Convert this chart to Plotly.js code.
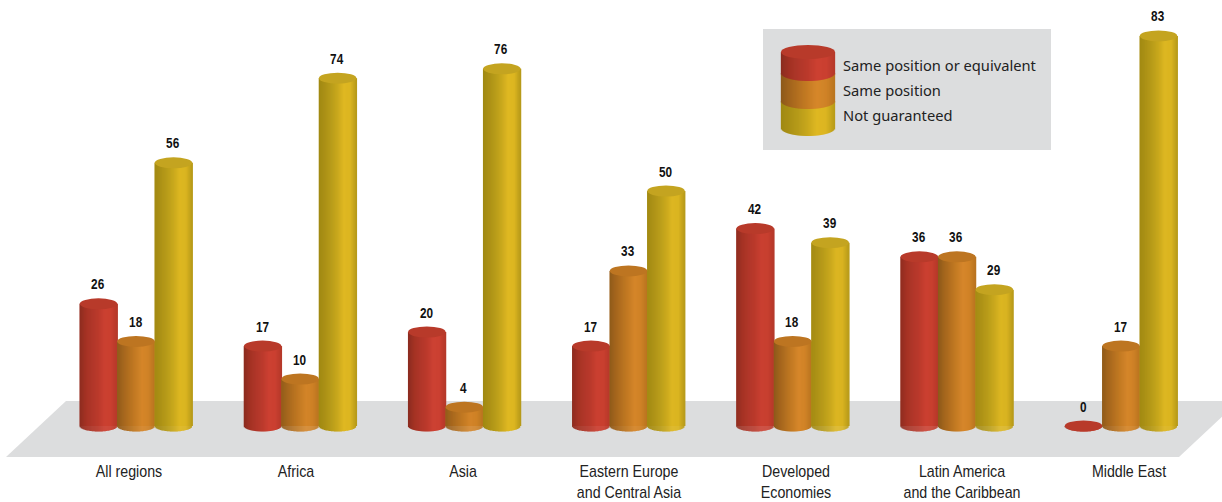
<!DOCTYPE html>
<html>
<head>
<meta charset="utf-8">
<script src="https://cdn.plot.ly/plotly-3.0.1.min.js"></script>
<style>html,body{margin:0;padding:0;background:#fff;overflow:hidden}#c{width:1222px;height:502px}</style>
</head>
<body>
<div id="c"></div>
<script>
const categories = ['All regions','Africa','Asia','Eastern Europe<br>and Central Asia','Developed<br>Economies','Latin America<br>and the Caribbean','Middle East'];
const seriesNames = ['Same position or equivalent','Same position','Not guaranteed'];
const samePositionOrEquivalent = [26,17,20,17,42,36,0];
const samePosition = [18,10,4,33,18,36,17];
const notGuaranteed = [56,74,76,50,39,29,83];
const seriesValues = [samePositionOrEquivalent, samePosition, notGuaranteed];
const labelPixels = [129,296,463,629,796,962,1129];
const shades = [
  ['#8a2c1f','#a33224','#b0372a','#bb3a2c','#cc4132','#cb4031','#b5392a'],
  ['#8c591a','#a3651d','#b57120','#c67c24','#d6872a','#d08327','#b97420'],
  ['#a08812','#ab9116','#b89c1a','#c9a81d','#dfb822','#dcb621','#b79a19']
];
const topColors = ['#b83a2a','#bd7521','#c4a420'];

const W=1222,H=502,pxPerUnit=4.7,baseY=426,plotBottom=458,groupStart=136,groupStep=164.17,barW=37.5,rimH=5.5;
const toX = px => (px-groupStart)/groupStep;
const toY = py => (baseY-py)/pxPerUnit;
const pX = px => px/W;
const pY = py => 1-py/(plotBottom);
function hex(h){return [1,3,5].map(i=>parseInt(h.substr(i,2),16));}
function shade(list,t){
  const p=t*(list.length-1),i=Math.min(Math.floor(p),list.length-2),f=p-i;
  const a=hex(list[i]),b=hex(list[i+1]);
  return 'rgb('+a.map((v,k)=>Math.round(v+(b[k]-v)*f)).join(',')+')';
}
function strips(cxPx,topPx,bottomPx,halfW,hh,list,out){
  for(let p=-halfW;p<halfW;p++){
    const d=(p+0.5)/halfW, arc=hh*Math.sqrt(Math.max(0,1-d*d));
    const b=toY(bottomPx+arc), t=toY(topPx);
    out.x.push(toX(cxPx+p+0.5)); out.base.push(b); out.y.push(t-b);
    out.color.push(shade(list,(d+1)/2));
  }
}
const traces=[],shapes=[],annotations=[];
function push(out,name){
  traces.push({type:'bar',name:name,x:out.x,y:out.y,base:out.base,width:1.3/groupStep,
    marker:{color:out.color,line:{width:0}},hoverinfo:'skip',showlegend:false});
}
const ellipse=(cx,cy,hw,hh,col)=>({type:'circle',xref:'x',yref:'y',x0:toX(cx-hw),x1:toX(cx+hw),y0:toY(cy+hh),y1:toY(cy-hh),fillcolor:col,line:{width:0},layer:'above'});

// platform and legend panel
const poly=pts=>'M'+pts.map(p=>pX(p[0])+','+pY(p[1])).join('L')+'Z';
shapes.push({type:'path',xref:'paper',yref:'paper',path:poly([[66,401],[1239,401],[1179,457],[6,457]]),fillcolor:'#dcddde',line:{width:0},layer:'below'});
shapes.push({type:'rect',xref:'paper',yref:'paper',x0:pX(763),x1:pX(1051),y0:pY(150),y1:pY(29),fillcolor:'#dcddde',line:{width:0},layer:'below'});

seriesValues.forEach((vals,s)=>{
  const off=(s-1)*barW/groupStep;
  traces.push({type:'bar',name:seriesNames[s],x:vals.map((v,i)=>i+off),y:vals,width:barW/groupStep,
    marker:{color:topColors[s],line:{width:0}},hoverinfo:'skip',showlegend:false});
  const out={x:[],y:[],base:[],color:[]};
  vals.forEach((v,i)=>{
    const cx=groupStart+groupStep*i+off*groupStep;
    strips(cx,baseY-v*pxPerUnit,baseY,barW/2,rimH,shades[s],out);
    shapes.push(ellipse(cx,baseY-v*pxPerUnit,barW/2,rimH,topColors[s]));
    annotations.push({x:i+off,y:v,xshift:-0.5,yshift:20,text:String(v),showarrow:false,xanchor:'center',yanchor:'middle',
      font:{family:'"Liberation Sans"',size:15.5,color:'#111',weight:700}});
  });
  push(out,seriesNames[s]+' shading');
});

// legend swatch: one stacked cylinder
const legendCx=808,legendHalf=27,legendHh=8,legendLevels=[52,73,101,128];
[2,1,0].forEach(s=>{
  const out={x:[],y:[],base:[],color:[]};
  strips(legendCx,legendLevels[s],legendLevels[s+1],legendHalf,legendHh,shades[s],out);
  push(out,seriesNames[s]+' key');
});
shapes.push(ellipse(legendCx,legendLevels[0],legendHalf,legendHh-1,topColors[0]));
[65,90,115].forEach((py,s)=>annotations.push({xref:'paper',yref:'paper',x:pX(841),y:pY(py),xanchor:'left',yanchor:'middle',showarrow:false,
  text:seriesNames[s],font:{family:'"Noto Sans"',size:14.7,color:'#222'}}));

function squeeze(el,s){
  const tr=el.getAttribute('transform')||'',b=el.getBBox(),cx=b.x+b.width/2;
  el.setAttribute('transform',tr+' translate('+cx+',0) scale('+s+',1) translate('+(-cx)+',0)');
}
Plotly.newPlot('c',traces,{
  width:W,height:H,margin:{l:0,r:0,t:0,b:H-plotBottom,pad:0},
  paper_bgcolor:'#fff',plot_bgcolor:'rgba(0,0,0,0)',barmode:'overlay',showlegend:false,
  xaxis:{type:'linear',range:[toX(0),toX(W)],tickmode:'array',tickvals:labelPixels.map(toX),ticktext:categories,
    ticks:'',showgrid:false,zeroline:false,showline:false,fixedrange:true,automargin:false,ticklabelstandoff:2,
    tickfont:{family:'"Liberation Sans"',size:16,color:'#222'}},
  yaxis:{range:[toY(plotBottom),toY(0)],visible:false,showgrid:false,zeroline:false,fixedrange:true},
  shapes:shapes,annotations:annotations
},{displayModeBar:false,staticPlot:true}).then(()=>{
  document.querySelectorAll('.xtick text').forEach(el=>squeeze(el,0.89));
  document.querySelectorAll('.annotation-text').forEach(el=>{if(/^\d+$/.test(el.textContent))squeeze(el,0.76);});
});
</script>
</body>
</html>
